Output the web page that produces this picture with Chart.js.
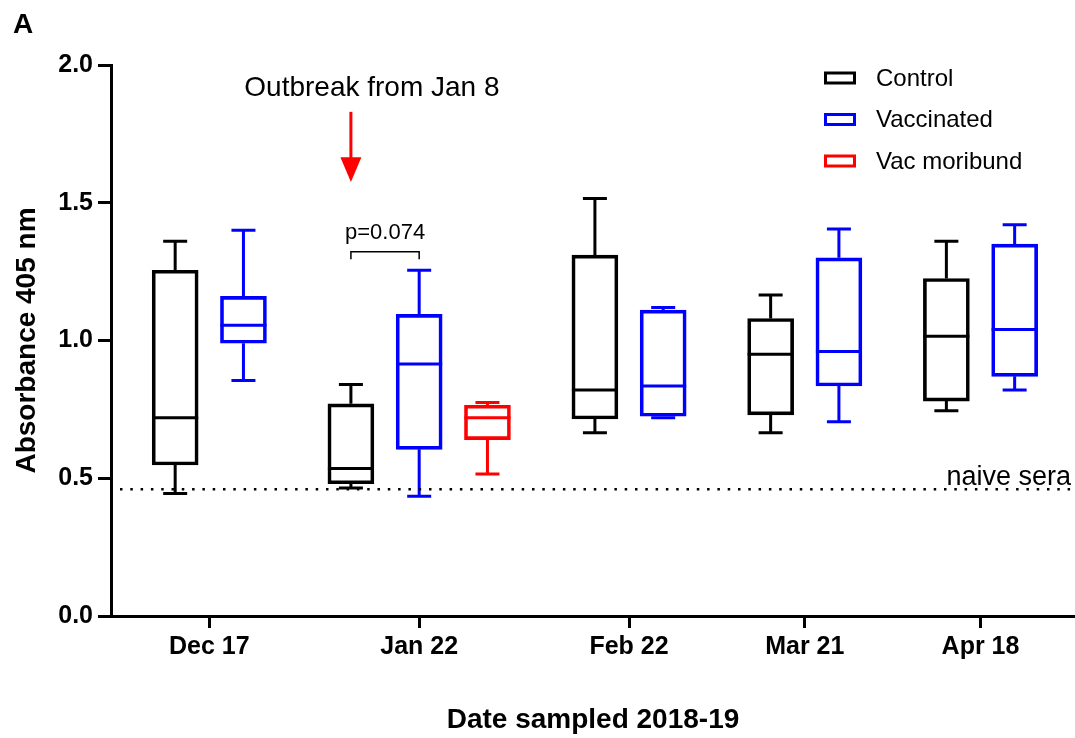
<!DOCTYPE html>
<html lang="en">
<head>
  <meta charset="UTF-8" />
  <title>Absorbance 405 nm by sampling date</title>
  <script src="https://cdn.jsdelivr.net/npm/chart.js"></script>
  <style>
    body { margin: 0; background: #fff; }
  </style>
</head>
<body>
  <canvas id="boxChart" width="1075" height="738"></canvas>

  <script>
    // sampling dates
    const dates = ['Dec 17', 'Jan 22', 'Feb 22', 'Mar 21', 'Apr 18'];

    // box stats per date: [min, q1, median, q3, max]
    const control = [
      [0.445, 0.548, 0.72, 1.255, 1.36],
      [0.465, 0.48, 0.535, 0.77, 0.84],
      [0.665, 0.715, 0.82, 1.31, 1.515],
      [0.665, 0.73, 0.95, 1.08, 1.165],
      [0.745, 0.78, 1.015, 1.225, 1.36]
    ];
    const vaccinated = [
      [0.855, 0.99, 1.055, 1.16, 1.40],
      [0.435, 0.605, 0.915, 1.095, 1.255],
      [0.72, 0.725, 0.835, 1.11, 1.12],
      [0.705, 0.835, 0.96, 1.30, 1.405],
      [0.82, 0.87, 1.04, 1.35, 1.42]
    ];
    const vacMoribund = [
      null,
      [0.515, 0.64, 0.72, 0.765, 0.775],
      null, null, null
    ];

    const yTicks = [0, 0.5, 1.0, 1.5, 2.0];
    const naiveSera = 0.46;
    const pLabel = 'p=0.074';
    const outbreakLabel = 'Outbreak from Jan 8';

    const series = [
      { label: 'Control', color: '#000000', stats: control },
      { label: 'Vaccinated', color: '#0000ff', stats: vaccinated },
      { label: 'Vac moribund', color: '#ff0000', stats: vacMoribund }
    ];

    // lay the boxes out: one unit between boxes of a date, wider gap between dates
    const GROUP_GAP = 1.574;
    const slotPos = series.map(() => []);
    const groupCenters = [];
    let pos = 0;
    dates.forEach((_, i) => {
      const slots = [];
      series.forEach((s, si) => {
        if (!s.stats[i]) return;
        if (slots.length) pos += 1;
        slotPos[si][i] = pos;
        slots.push(pos);
      });
      groupCenters.push((slots[0] + slots[slots.length - 1]) / 2);
      pos += GROUP_GAP;
    });

    const FONT = '"Liberation Sans", Arial, Helvetica, sans-serif';
    Chart.defaults.font.family = FONT;
    Chart.defaults.color = '#000';

    const datasets = series.map((s, si) => ({
      label: s.label,
      borderColor: s.color,
      backgroundColor: 'rgba(0,0,0,0)',
      borderWidth: 3,
      borderSkipped: false,
      grouped: false,
      barThickness: 46,
      maxBarThickness: 46,
      data: s.stats
        .map((st, i) => st && { x: slotPos[si][i], y: [st[1], st[3]], stats: st })
        .filter(Boolean)
    }));

    // medians, whiskers and caps on top of the boxes
    const whiskers = {
      id: 'whiskers',
      afterDatasetsDraw(chart) {
        const { ctx } = chart;
        const yScale = chart.scales.y;
        const py = v => yScale.getPixelForValue(v);
        chart.data.datasets.forEach((ds, di) => {
          const meta = chart.getDatasetMeta(di);
          ctx.save();
          ctx.strokeStyle = ds.borderColor;
          ctx.lineWidth = 3;
          meta.data.forEach((bar, i) => {
            const [lo, q1, med, q3, hi] = ds.data[i].stats;
            const cx = bar.x;
            const half = bar.width / 2;
            ctx.beginPath();
            ctx.moveTo(cx - half, py(med)); ctx.lineTo(cx + half, py(med));
            ctx.moveTo(cx, py(q3)); ctx.lineTo(cx, py(hi));
            ctx.moveTo(cx, py(q1)); ctx.lineTo(cx, py(lo));
            ctx.moveTo(cx - 12, py(hi)); ctx.lineTo(cx + 12, py(hi));
            ctx.moveTo(cx - 12, py(lo)); ctx.lineTo(cx + 12, py(lo));
            ctx.stroke();
          });
          ctx.restore();
        });
      }
    };

    // reference line, outbreak arrow, p-value bracket, legend and panel letter
    const notes = {
      id: 'notes',
      afterDraw(chart) {
        const { ctx, chartArea: area, scales: { x, y } } = chart;
        ctx.save();
        ctx.fillStyle = '#000';
        ctx.strokeStyle = '#000';

        // naive sera
        const ny = y.getPixelForValue(naiveSera);
        ctx.lineWidth = 2.5;
        ctx.setLineDash([2.5, 7.8]);
        ctx.beginPath();
        ctx.moveTo(area.left + 9, ny);
        ctx.lineTo(area.right, ny);
        ctx.stroke();
        ctx.setLineDash([]);
        ctx.font = '27px ' + FONT;
        ctx.textAlign = 'right';
        ctx.textBaseline = 'alphabetic';
        ctx.fillText('naive sera', area.right - 4, ny - 4);

        // outbreak arrow over the Jan 22 control box
        const ax = x.getPixelForValue(slotPos[0][1]);
        ctx.font = '28px ' + FONT;
        ctx.textAlign = 'center';
        ctx.textBaseline = 'middle';
        ctx.fillText(outbreakLabel, ax + 21, y.getPixelForValue(1.915));
        ctx.strokeStyle = '#ff0000';
        ctx.fillStyle = '#ff0000';
        ctx.lineWidth = 3;
        const headTop = y.getPixelForValue(1.665);
        ctx.beginPath();
        ctx.moveTo(ax, y.getPixelForValue(1.83));
        ctx.lineTo(ax, headTop + 2);
        ctx.stroke();
        ctx.beginPath();
        ctx.moveTo(ax - 10.5, headTop);
        ctx.lineTo(ax + 10.5, headTop);
        ctx.lineTo(ax, y.getPixelForValue(1.575));
        ctx.closePath();
        ctx.fill();

        // p-value bracket between Jan 22 control and vaccinated
        const bx1 = x.getPixelForValue(slotPos[0][1]);
        const bx2 = x.getPixelForValue(slotPos[1][1]);
        const by = y.getPixelForValue(1.322);
        const legY = y.getPixelForValue(1.295);
        ctx.strokeStyle = '#000';
        ctx.fillStyle = '#000';
        ctx.lineWidth = 1.5;
        ctx.beginPath();
        ctx.moveTo(bx1, legY); ctx.lineTo(bx1, by); ctx.lineTo(bx2, by); ctx.lineTo(bx2, legY);
        ctx.stroke();
        ctx.font = '22px ' + FONT;
        ctx.fillText(pLabel, (bx1 + bx2) / 2, y.getPixelForValue(1.39));

        // legend
        ctx.font = '24px ' + FONT;
        ctx.textAlign = 'left';
        ctx.lineWidth = 3;
        chart.data.datasets.forEach((ds, i) => {
          const rowY = area.top + 13 + i * 41.5;
          ctx.strokeStyle = ds.borderColor;
          ctx.strokeRect(area.right - 249.5, rowY - 5, 29, 10);
          ctx.fillStyle = '#000';
          ctx.fillText(ds.label, area.right - 199, rowY + 1);
        });

        // panel letter
        ctx.font = 'bold 28px ' + FONT;
        ctx.textBaseline = 'alphabetic';
        ctx.fillText('A', 13, 33);
        ctx.restore();
      }
    };

    new Chart(document.getElementById('boxChart'), {
      type: 'bar',
      data: { datasets },
      options: {
        responsive: false,
        animation: false,
        layout: { padding: { top: 65, left: 0, right: 0, bottom: 0 } },
        plugins: { legend: { display: false }, tooltip: { enabled: false } },
        scales: {
          x: {
            type: 'linear',
            min: -0.94,
            max: 13.18,
            offset: false,
            afterBuildTicks: sc => { sc.ticks = groupCenters.map(v => ({ value: v })); },
            afterFit: sc => { sc.height = 122; },
            grid: { offset: false, drawOnChartArea: false, tickLength: 12, tickWidth: 3, tickColor: '#000' },
            border: { color: '#000', width: 3 },
            ticks: {
              autoSkip: false,
              maxRotation: 0,
              padding: 4,
              font: { size: 25, weight: 'bold' },
              callback: (v, i) => dates[i]
            },
            title: {
              display: true,
              text: 'Date sampled 2018-19',
              font: { size: 28, weight: 'bold' },
              padding: { top: 0, bottom: 1 }
            }
          },
          y: {
            min: 0,
            max: 2,
            afterBuildTicks: sc => { sc.ticks = yTicks.map(v => ({ value: v })); },
            afterFit: sc => { sc.width = 111; },
            grid: { drawOnChartArea: false, tickLength: 13, tickWidth: 3, tickColor: '#000' },
            border: { color: '#000', width: 3 },
            ticks: {
              padding: 5,
              font: { size: 25, weight: 'bold' },
              callback: v => v.toFixed(1)
            },
            title: {
              display: true,
              text: 'Absorbance 405 nm',
              font: { size: 28, weight: 'bold' },
              padding: { top: 10, bottom: 0 }
            }
          }
        }
      },
      plugins: [whiskers, notes]
    });
  </script>
</body>
</html>
